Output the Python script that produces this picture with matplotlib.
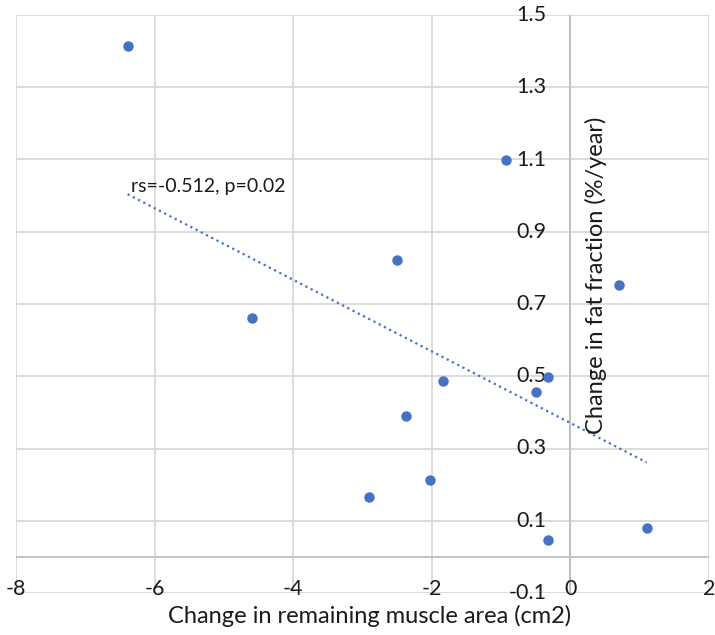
import numpy as np
import matplotlib
matplotlib.use('Agg')
import matplotlib.pyplot as plt
import matplotlib.transforms as mtransforms

plt.rcParams['font.family'] = ['Lato', 'DejaVu Sans']

# change in remaining muscle area (cm2) vs change in fat fraction (%/year)
muscle_change = [-6.39, -4.60, -0.93, -2.50, 0.70, -1.84, -0.33, -0.50,
                 -2.37, -2.90, -2.03, 1.10, -0.33]
fat_change = [1.415, 0.662, 1.099, 0.822, 0.753, 0.487, 0.498, 0.457,
              0.390, 0.166, 0.213, 0.080, 0.047]

x_ticks = [-8, -6, -4, -2, 0, 2]
y_ticks = [-0.1, 0.1, 0.3, 0.5, 0.7, 0.9, 1.1, 1.3, 1.5]
y_labels = ['-0.1', '0.1', '0.3', '0.5', '0.7', '0.9', '1.1', '1.3', '1.5']
stats_label = 'rs=-0.512, p=0.02'

blue = '#4472C4'
grid_c = '#d9d9d9'
axis_c = '#bfbfbf'
txt_c = '#1a1a1a'

fig = plt.figure(figsize=(7.15, 6.35), dpi=100)
ax = fig.add_axes([16 / 715, 1 - 593 / 635, 693 / 715, 578 / 635])
ax.set_xlim(-8, 2)
ax.set_ylim(-0.1, 1.5)
for s in ax.spines.values():
    s.set_visible(False)
ax.set_xticks([])
ax.set_yticks([])

# gridlines
for xv in x_ticks:
    ax.axvline(xv, color=grid_c, lw=1.3, zorder=0)
for yv in y_ticks:
    ax.axhline(yv, color=grid_c, lw=1.3, zorder=0)
# axes crossing at zero
ax.axvline(0, color=axis_c, lw=1.3, zorder=1)
ax.axhline(0, color=axis_c, lw=1.3, zorder=1)

# y tick labels sit left of the x=0 axis
off_left = mtransforms.offset_copy(ax.transData, fig=fig, x=-24, y=0, units='dots')
for yv, lab in zip(y_ticks, y_labels):
    ax.text(0, yv, lab, transform=off_left, ha='right', va='center',
            fontsize=15.5, color=txt_c)

# x tick labels along the bottom
off_down = mtransforms.offset_copy(ax.transData, fig=fig, x=0, y=4, units='dots')
for xv in x_ticks:
    ax.text(xv, -0.1, str(xv), transform=off_down, ha='center', va='center',
            fontsize=15.5, color=txt_c)

ax.plot(muscle_change, fat_change, 'o', color=blue, ms=6.5, zorder=3)

# linear trendline
k, b = np.polyfit(muscle_change, fat_change, 1)
xs = np.array([min(muscle_change), max(muscle_change)])
ax.plot(xs, k * xs + b, ':', color=blue, lw=1.6, zorder=2)

ax.text(-6.34, 1.024, stats_label, ha='left', va='center', fontsize=14,
        color=txt_c)

ax.text(0.37, 0.78, 'Change in fat fraction (%/year)', rotation=90,
        ha='center', va='center', fontsize=17, color=txt_c)
fig.text(370 / 715, 1 - 616 / 635, 'Change in remaining muscle area (cm2)',
         ha='center', va='center', fontsize=17, color=txt_c)

fig.savefig('out.png', dpi=100)
